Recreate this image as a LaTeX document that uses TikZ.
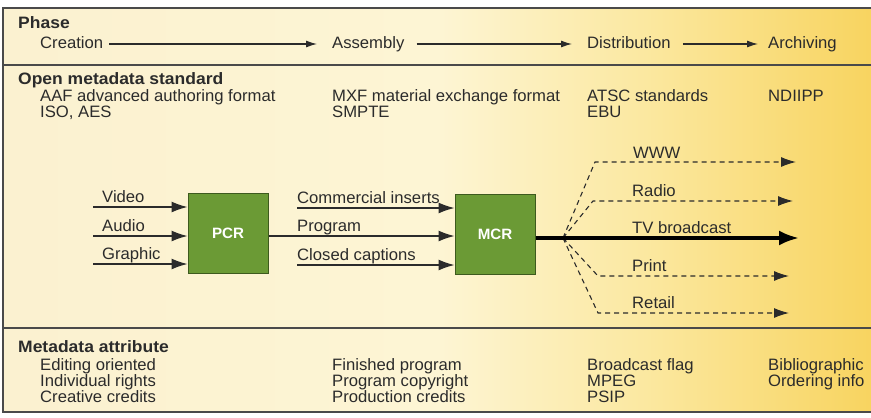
\documentclass[tikz,border=0pt]{standalone}
\usepackage{fontspec}
\setmainfont{Liberation Sans}[FakeStretch=1.01]
\newfontfamily\hdrfont{Liberation Sans}[FakeStretch=1.06]
\usetikzlibrary{arrows.meta}
\definecolor{bgL}{HTML}{FBF1D0}
\definecolor{bgC}{HTML}{FDF5D4}
\definecolor{bgM}{HTML}{FBE8A0}
\definecolor{bgR}{HTML}{F8D460}
\definecolor{boxG}{HTML}{6B9A35}
\definecolor{boxB}{HTML}{3D5A1E}
\definecolor{ink}{HTML}{2B2B2B}
\definecolor{rule}{HTML}{4A4A4A}
\pgfdeclarehorizontalshading{bgshade}{100bp}{color(0bp)=(bgL); color(25bp)=(bgL); color(50bp)=(bgC); color(62bp)=(bgM); color(75bp)=(bgR); color(100bp)=(bgR)}
\begin{document}
\begin{tikzpicture}[x=1pt,y=-1pt,
  txt/.style={anchor=base west, inner sep=0pt, text=ink, font=\fontsize{16.5}{16.5}\selectfont},
  hdr/.style={anchor=base west, inner sep=0pt, text=ink, font=\hdrfont\bfseries\fontsize{16.5}{16.5}\selectfont},
  room/.style={draw=boxB, line width=1pt, fill=boxG, minimum width=80pt, minimum height=80pt, inner sep=0pt,
    text=white, font=\fontsize{15}{15}\selectfont\bfseries},
  phasearr/.style={draw=ink, line width=1.1pt, -{Latex[length=11pt,width=7pt]}},
  inarr/.style={draw=ink, line width=1.3pt, -{Latex[length=16pt,width=11pt]}},
  dasharr/.style={draw=ink, line width=1.1pt, dash pattern=on 5pt off 4pt, -{Latex[length=15pt,width=10pt]}},
  mainarr/.style={draw=black, line width=3.5pt, -{Latex[length=20pt,width=15pt]}},
  frameline/.style={draw=rule, line width=1.5pt},
]
\useasboundingbox (0,0) rectangle (871,418);
\fill[white] (0,0) rectangle (871,418);
\shade[shading=bgshade] (3,8) rectangle (871,412);
\draw[frameline] (871,8) -- (3,8) -- (3,412) -- (871,412);
\draw[frameline] (3,65) -- (871,65);
\draw[frameline] (3,328) -- (871,328);

% Phase row
\node[hdr] (phase) at (18,28) {Phase};
\node[txt] (creation) at (40,48) {Creation};
\node[txt] (assembly) at (332,48) {Assembly};
\node[txt] (distribution) at (587,48) {Distribution};
\node[txt] (archiving) at (768,48) {Archiving};
\draw[phasearr] ([shift={(6,-4)}]creation.base east) -- ([shift={(-15,-4)}]assembly.base west);
\draw[phasearr] ([shift={(12,-4)}]assembly.base east) -- ([shift={(-15,-4)}]distribution.base west);
\draw[phasearr] ([shift={(12,-4)}]distribution.base east) -- ([shift={(-10,-4)}]archiving.base west);

% Open metadata standard
\node[hdr] (oms) at (18,84) {Open metadata standard};
\node[txt] (aaf) at (40,101) {AAF advanced authoring format};
\node[txt] (iso) at (40,117) {ISO, AES};
\node[txt] (mxf) at (332,101) {MXF material exchange format};
\node[txt] (smpte) at (332,117) {SMPTE};
\node[txt] (atsc) at (587,101) {ATSC standards};
\node[txt] (ebu) at (587,117) {EBU};
\node[txt] (ndiipp) at (768,101) {NDIIPP};

% Control rooms
\node[room] (pcr) at (228,233) {PCR};
\node[room] (mcr) at (495,234) {MCR};

% Inputs to PCR
\coordinate (vin) at (93,207);
\coordinate (ain) at (93,236);
\coordinate (gin) at (93,264);
\node[txt] (video) at (102,202.5) {Video};
\node[txt] (audio) at (102,231.5) {Audio};
\node[txt] (graphic) at (102,259.5) {Graphic};
\draw[inarr] (vin) -- (vin -| pcr.west);
\draw[inarr] (ain) -- (ain -| pcr.west);
\draw[inarr] (gin) -- (gin -| pcr.west);

% Between PCR and MCR
\coordinate (cin) at (297,208);
\coordinate (ccin) at (297,265);
\node[txt] (commercial) at (297,203.5) {Commercial inserts};
\node[txt] (program) at (297,231.5) {Program};
\node[txt] (captions) at (297,260.5) {Closed captions};
\draw[inarr] (cin) -- (cin -| mcr.west);
\draw[inarr] ([yshift=-3pt]pcr.east) -- ([yshift=-3pt]pcr.east -| mcr.west);
\draw[inarr] (ccin) -- (ccin -| mcr.west);

% Distribution outputs
\coordinate (br) at (563,238);
\coordinate (tvend) at (799,238);
\coordinate (wwwA) at (595,162);
\coordinate (wwwE) at (796,162);
\coordinate (radA) at (593,201);
\coordinate (radE) at (793,201);
\coordinate (prtA) at (598,276);
\coordinate (prtE) at (789,276);
\coordinate (retA) at (598,313);
\coordinate (retE) at (789,313);
\node[txt] (www) at (633,158) {WWW};
\node[txt] (radio) at (632,196.5) {Radio};
\node[txt] (tv) at (632,233.5) {TV broadcast};
\node[txt] (print) at (632,271.5) {Print};
\node[txt] (retail) at (632,308.5) {Retail};
\draw[dasharr] (br) -- (wwwA) -- (wwwE);
\draw[dasharr] (br) -- (radA) -- (radE);
\draw[dasharr] (br) -- (prtA) -- (prtE);
\draw[dasharr] (br) -- (retA) -- (retE);
\draw[mainarr] ([yshift=-4pt]mcr.east) -- (tvend);

% Metadata attribute
\node[hdr] (mda) at (18,352) {Metadata attribute};
\node[txt] (edit) at (40,370) {Editing oriented};
\node[txt] (indiv) at (40,386) {Individual rights};
\node[txt] (creative) at (40,402) {Creative credits};
\node[txt] (finished) at (332,370) {Finished program};
\node[txt] (copyright) at (332,386) {Program copyright};
\node[txt] (production) at (332,402) {Production credits};
\node[txt] (flag) at (587,370) {Broadcast flag};
\node[txt] (mpeg) at (587,386) {MPEG};
\node[txt] (psip) at (587,402) {PSIP};
\node[txt] (biblio) at (768,370) {Bibliographic};
\node[txt] (ordering) at (768,386) {Ordering info};
\end{tikzpicture}
\end{document}
